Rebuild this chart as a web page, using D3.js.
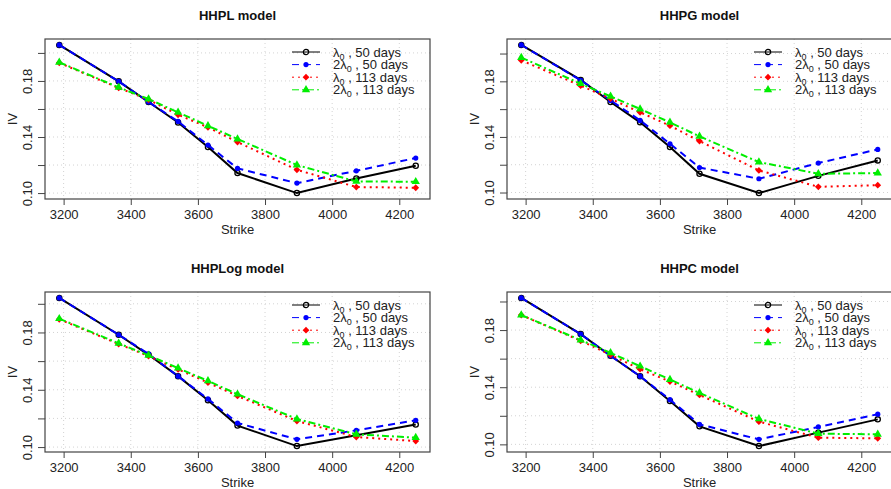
<!DOCTYPE html>
<html>
<head>
<meta charset="utf-8">
<script src="https://cdn.jsdelivr.net/npm/d3@7"></script>
<style>
  body { margin: 0; background: #fff; }
  svg { display: block; font-family: "Liberation Sans", Arial, sans-serif; }
</style>
</head>
<body>
<script>

// Strikes shared by every panel
const strikes = [3187, 3364, 3453, 3541, 3630, 3718, 3895, 4072, 4249];

// Axis ticks
const xTicks = [3200, 3400, 3600, 3800, 4000, 4200];
const yTicks = [0.10, 0.12, 0.14, 0.16, 0.18, 0.20];
const yLabelled = [0.10, 0.14, 0.18];

// Panel titles
const titles = ["HHPL model", "HHPG model", "HHPLog model", "HHPC model"];

// Legend text pieces: prefix + lambda_0 + suffix
const legendPrefix = ["", "2", "", "2"];
const legendSuffix = [" , 50 days", " , 50 days", " , 113 days", " , 113 days"];

// Implied vols, one row per series (lambda0 50d, 2lambda0 50d, lambda0 113d, 2lambda0 113d)
const ivHHPL = [
    [0.2057, 0.1797, 0.1650, 0.1504, 0.1329, 0.1143, 0.1000, 0.1104, 0.1195],
    [0.2057, 0.1797, 0.1650, 0.1511, 0.1343, 0.1176, 0.1071, 0.1159, 0.1250],
    [0.1929, 0.1750, 0.1666, 0.1559, 0.1469, 0.1364, 0.1166, 0.1043, 0.1038],
    [0.1933, 0.1754, 0.1671, 0.1576, 0.1480, 0.1386, 0.1200, 0.1083, 0.1081]
];
const ivHHPG = [
    [0.2062, 0.1810, 0.1651, 0.1505, 0.1327, 0.1135, 0.0996, 0.1120, 0.1231],
    [0.2062, 0.1808, 0.1663, 0.1519, 0.1351, 0.1180, 0.1099, 0.1212, 0.1310],
    [0.1951, 0.1769, 0.1675, 0.1577, 0.1481, 0.1370, 0.1159, 0.1041, 0.1053],
    [0.1971, 0.1783, 0.1692, 0.1601, 0.1505, 0.1404, 0.1219, 0.1135, 0.1140]
];
const ivHHPLog = [
    [0.2041, 0.1784, 0.1644, 0.1495, 0.1327, 0.1150, 0.1007, 0.1082, 0.1157],
    [0.2041, 0.1784, 0.1650, 0.1495, 0.1336, 0.1168, 0.1054, 0.1117, 0.1187],
    [0.1892, 0.1719, 0.1635, 0.1542, 0.1450, 0.1357, 0.1182, 0.1070, 0.1042],
    [0.1896, 0.1724, 0.1640, 0.1551, 0.1462, 0.1369, 0.1196, 0.1089, 0.1066]
];
const ivHHPC = [
    [0.2025, 0.1772, 0.1620, 0.1477, 0.1304, 0.1126, 0.0988, 0.1082, 0.1175],
    [0.2025, 0.1772, 0.1620, 0.1477, 0.1313, 0.1140, 0.1035, 0.1122, 0.1211],
    [0.1905, 0.1725, 0.1627, 0.1526, 0.1440, 0.1346, 0.1159, 0.1047, 0.1042],
    [0.1905, 0.1730, 0.1641, 0.1547, 0.1454, 0.1360, 0.1178, 0.1075, 0.1070]
];
const panelData = [ivHHPL, ivHHPG, ivHHPLog, ivHHPC];

// Series styles
const colours = ["#000000", "#0000ff", "#ff0000", "#00ee00"];
const dashes = [null, "7,5", "2,4", "7,3,2,3"];
const shapes = ["openCircle", "circle", "diamond", "triangle"];

// Layout
const W = 891, H = 489;
const boxW = 385, boxH = 160;
const panels = [
    {left: 45, top: 39}, {left: 507, top: 39},
    {left: 45, top: 292}, {left: 507, top: 292}
];

const svg = d3.select("body").append("svg")
    .attr("width", W).attr("height", H);

// R style range: data extent padded by 4% each side
function rRange(ext) {
    let pad = (ext[1] - ext[0]) * 0.04;
    return [ext[0] - pad, ext[1] + pad];
}

/**
 * Draw one marker at (cx, cy)
 */
function marker(g, shape, cx, cy, colour) {
    if (shape === "openCircle") {
        g.append("circle").attr("cx", cx).attr("cy", cy).attr("r", 2.6)
            .attr("fill", "none").attr("stroke", colour).attr("stroke-width", 1.3);
    } else if (shape === "circle") {
        g.append("circle").attr("cx", cx).attr("cy", cy).attr("r", 2.6)
            .attr("fill", colour);
    } else if (shape === "diamond") {
        // square diamond like R's pch 18
        g.append("path").attr("d", "M0,-3.4L3.4,0L0,3.4L-3.4,0Z")
            .attr("transform", `translate(${cx},${cy})`).attr("fill", colour);
    } else {
        g.append("path").attr("d", d3.symbol(d3.symbolTriangle, 30)())
            .attr("transform", `translate(${cx},${cy})`).attr("fill", colour);
    }
}

panelData.forEach((series, p) => {
    let pos = panels[p];
    let g = svg.append("g").attr("transform", `translate(${pos.left},${pos.top})`);

    let x = d3.scaleLinear()
        .domain(rRange(d3.extent(strikes)))
        .range([0, boxW]);
    let y = d3.scaleLinear()
        .domain(rRange(d3.extent(series.flat())))
        .range([boxH, 0]);

    // Grid
    g.append("g").selectAll("line").data(xTicks).join("line")
        .attr("x1", d => x(d)).attr("x2", d => x(d))
        .attr("y1", 0).attr("y2", boxH)
        .attr("stroke", "#d3d3d3").attr("stroke-dasharray", "1,3");
    g.append("g").selectAll("line").data(yTicks).join("line")
        .attr("x1", 0).attr("x2", boxW)
        .attr("y1", d => y(d)).attr("y2", d => y(d))
        .attr("stroke", "#d3d3d3").attr("stroke-dasharray", "1,3");

    // Axes
    let xAxis = g.append("g")
        .attr("transform", `translate(0,${boxH})`)
        .call(d3.axisBottom(x).tickValues(xTicks).tickSize(6).tickSizeOuter(0).tickFormat(d3.format("d")));
    let yAxis = g.append("g")
        .call(d3.axisLeft(y).tickValues(yTicks).tickSize(7).tickSizeOuter(0)
            .tickFormat(d => yLabelled.some(v => Math.abs(v - d) < 1e-9) ? d3.format(".2f")(d) : ""));
    [xAxis, yAxis].forEach(a => {
        a.select(".domain").remove();
        a.selectAll(".tick line").attr("stroke", "#444");
        a.selectAll("text").attr("font-size", 13).attr("fill", "#222")
            .attr("font-family", "Liberation Sans, Arial, sans-serif");
    });
    xAxis.selectAll("text").attr("y", 11);
    yAxis.selectAll("text")
        .attr("transform", "rotate(-90)")
        .attr("x", 0).attr("y", -13).attr("dy", 0)
        .attr("text-anchor", "middle");

    // Plot box
    g.append("rect").attr("width", boxW).attr("height", boxH)
        .attr("fill", "none").attr("stroke", "#444").attr("stroke-width", 1.2);

    // Series lines and markers
    series.forEach((vals, s) => {
        let pts = vals.map((v, i) => [x(strikes[i]), y(v)]);
        g.append("path")
            .datum(pts)
            .attr("fill", "none")
            .attr("stroke", colours[s])
            .attr("stroke-width", 2)
            .attr("stroke-dasharray", dashes[s])
            .attr("d", d3.line());
        pts.forEach(pt => marker(g, shapes[s], pt[0], pt[1], colours[s]));
    });

    // Titles and axis labels
    g.append("text").attr("x", boxW / 2).attr("y", -19)
        .attr("text-anchor", "middle").attr("font-size", 13).attr("font-weight", "bold")
        .attr("fill", "#111").text(titles[p]);
    g.append("text").attr("x", boxW / 2).attr("y", 35)
        .attr("transform", `translate(0,${boxH})`)
        .attr("text-anchor", "middle").attr("font-size", 13).attr("fill", "#222")
        .text("Strike");
    g.append("text")
        .attr("transform", `translate(-28,${boxH / 2}) rotate(-90)`)
        .attr("text-anchor", "middle").attr("font-size", 13).attr("fill", "#222")
        .text("IV");

    // Legend (no box)
    let lg = g.append("g").attr("transform", "translate(247,13)");
    legendPrefix.forEach((pre, s) => {
        let row = lg.append("g").attr("transform", `translate(0,${s * 12.6})`);
        row.append("line").attr("x1", 0).attr("x2", 28)
            .attr("stroke", colours[s]).attr("stroke-width", 1)
            .attr("stroke-dasharray", dashes[s]);
        marker(row, shapes[s], 14, 0, colours[s]);
        let t = row.append("text").attr("x", 41).attr("y", 4.5)
            .attr("font-size", 13).attr("fill", "#222");
        t.append("tspan").text(pre + "λ");
        t.append("tspan").attr("font-size", 9).attr("dy", 3).text("0");
        t.append("tspan").attr("dy", -3).text(legendSuffix[s]);
    });
});

</script>
</body>
</html>
